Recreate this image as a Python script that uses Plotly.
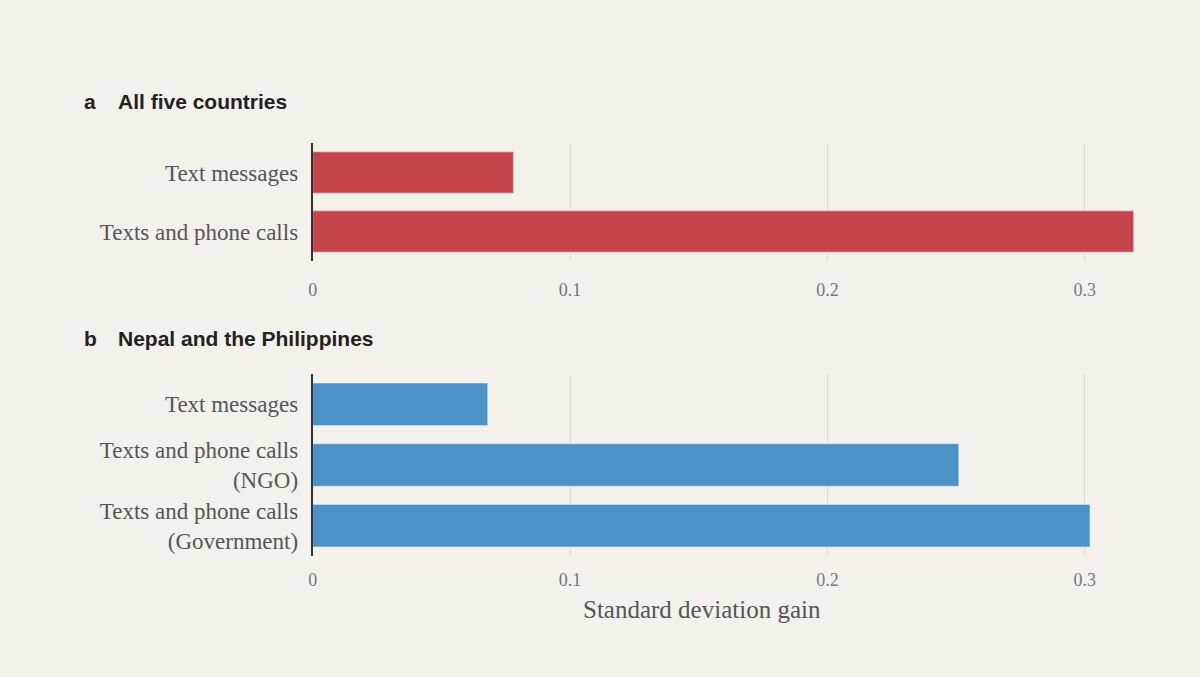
import plotly.graph_objects as go

# panel a: all five countries
cats_a = ["Text messages", "Texts and phone calls"]
vals_a = [0.078, 0.319]

# panel b: Nepal and the Philippines
cats_b = ["Text messages", "Texts and phone calls<br>(NGO)", "Texts and phone calls<br>(Government)"]
vals_b = [0.068, 0.251, 0.302]

tick_vals = [0, 0.1, 0.2, 0.3]
tick_text = ["0", "0.1", "0.2", "0.3"]

bg = "#f4f1ec"
red = "#c4464b"
blue = "#4a92c8"
label_font = dict(family="Liberation Serif", size=23, color="#555555")
title_font = dict(family="Liberation Sans", size=21, color="#222222")

fig = go.Figure()
fig.add_trace(go.Bar(x=vals_a, y=cats_a, orientation="h", marker_color=red,
                     xaxis="x", yaxis="y", showlegend=False))
fig.add_trace(go.Bar(x=vals_b, y=cats_b, orientation="h", marker_color=blue,
                     xaxis="x2", yaxis="y2", showlegend=False))

xcommon = dict(
    range=[0, 0.322],
    tickvals=tick_vals,
    ticktext=tick_text,
    showgrid=True,
    gridcolor="#dcdad5",
    gridwidth=1,
    zeroline=False,
    showline=False,
    ticks="",
    tickfont=dict(family="Liberation Serif", size=18, color="#777777"),
    domain=[0.2575, 0.951],
)
ycommon = dict(
    autorange="reversed",
    showline=True,
    linecolor="#333333",
    linewidth=2,
    ticks="",
    ticklabelstandoff=8,
    tickfont=label_font,
)


def label(text, x, y, font=title_font, xanchor="left"):
    return dict(text=text, x=x / 1200, y=1 - y / 677, xref="paper", yref="paper",
                xanchor=xanchor, yanchor="middle", showarrow=False, font=font)


fig.update_layout(
    width=1200,
    height=677,
    margin=dict(l=0, r=0, t=0, b=0),
    paper_bgcolor=bg,
    plot_bgcolor=bg,
    bargap=0.3,
    xaxis=dict(xcommon, anchor="y", ticklabelstandoff=16),
    yaxis=dict(ycommon, domain=[1 - 261 / 677, 1 - 143 / 677], anchor="x"),
    xaxis2=dict(xcommon, anchor="y2", ticklabelstandoff=11),
    yaxis2=dict(ycommon, domain=[1 - 556 / 677, 1 - 374 / 677], anchor="x2"),
    annotations=[
        label("<b>a</b>", 77, 101),
        label("<b>All five countries</b>", 111, 101),
        label("<b>b</b>", 77, 338),
        label("<b>Nepal and the Philippines</b>", 111, 338),
        label("Standard deviation gain", 700, 609,
              font=dict(family="Liberation Serif", size=25, color="#555555"), xanchor="center"),
    ],
)

fig.write_html("out.html", config={"displayModeBar": False},
               post_script="document.body.style.margin='0';")
